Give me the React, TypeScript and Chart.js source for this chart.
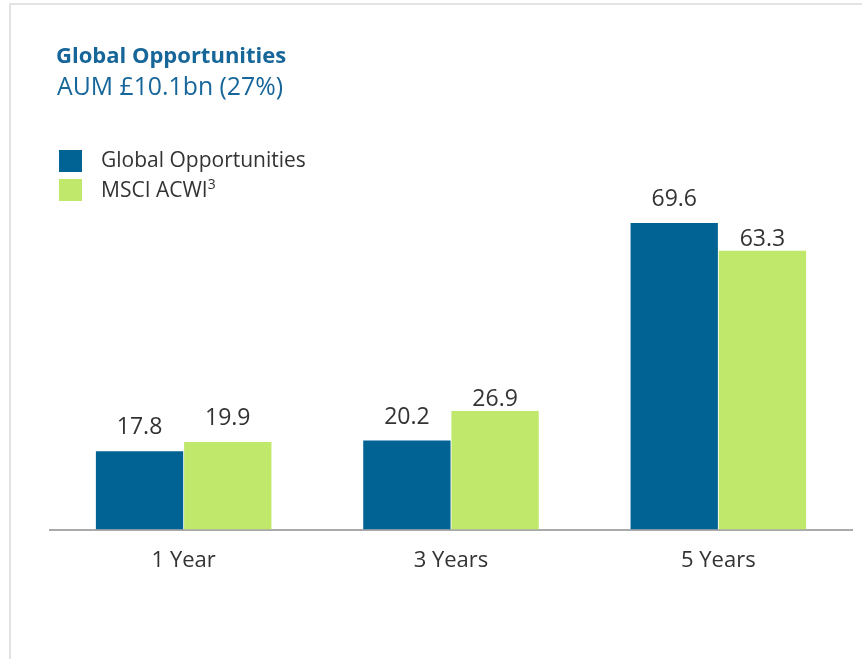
import React, { useEffect, useRef } from "react";
import { Chart, registerables } from "chart.js";

Chart.register(...registerables);

const categories = ["1 Year", "3 Years", "5 Years"];
const fundName = "Global Opportunities";
const benchName = "MSCI ACWI";
const fundValues = [17.8, 20.2, 69.6];
const benchValues = [19.9, 26.9, 63.3];
const titleText = "Global Opportunities";
const subtitleText = "AUM £10.1bn (27%)";

const BLUE = "#006394";
const GREEN = "#c0e86a";
const TEXT = "#333333";
const TITLE_BLUE = "#17669a";
const FONT = "'Open Sans', 'Liberation Sans', Arial, sans-serif";

// gap (px) between each value label's baseline and its bar top, per dataset
const LABEL_GAPS = [
  [17, 17, 17],
  [17, 5, 4.5],
];

const valueLabels = {
  id: "valueLabels",
  afterDatasetsDraw(chart: any) {
    const ctx = chart.ctx;
    ctx.save();
    ctx.font = `23px ${FONT}`;
    ctx.fillStyle = TEXT;
    ctx.textAlign = "center";
    ctx.textBaseline = "alphabetic";
    chart.data.datasets.forEach((ds: any, i: number) => {
      const meta = chart.getDatasetMeta(i);
      meta.data.forEach((bar: any, j: number) => {
        const v = ds.data[j] as number;
        const gap = (LABEL_GAPS[i] && LABEL_GAPS[i][j]) ?? 17;
        ctx.fillText(v.toFixed(1), bar.x, bar.y - gap);
      });
    });
    ctx.restore();
  },
};

export default function App() {
  const ref = useRef<HTMLCanvasElement | null>(null);
  useEffect(() => {
    if (!ref.current) return;
    const chart = new Chart(ref.current, {
      type: "bar",
      data: {
        labels: categories,
        datasets: [
          {
            label: fundName,
            data: fundValues,
            backgroundColor: BLUE,
            categoryPercentage: 0.66,
            barPercentage: 0.99,
          },
          {
            label: benchName,
            data: benchValues,
            backgroundColor: GREEN,
            categoryPercentage: 0.66,
            barPercentage: 0.99,
          },
        ],
      },
      options: {
        responsive: false,
        animation: false,
        layout: { padding: { left: 50, right: 10, top: 177.2, bottom: 67 } },
        plugins: {
          legend: { display: false },
          title: { display: false },
          tooltip: { enabled: false },
        },
        scales: {
          x: {
            grid: { display: false, drawTicks: false },
            border: { display: true, color: "#aaaaaa", width: 2 },
            ticks: {
              color: TEXT,
              font: { family: FONT, size: 22 },
              padding: 18,
            },
          },
          y: {
            display: false,
            min: 0,
            max: 80,
          },
        },
      },
      plugins: [valueLabels],
    });
    return () => chart.destroy();
  }, []);

  const textBase: React.CSSProperties = {
    position: "absolute",
    whiteSpace: "nowrap",
    fontFamily: FONT,
    lineHeight: 1,
    margin: 0,
  };

  return (
    <div
      style={{
        position: "absolute",
        left: 0,
        top: 0,
        width: 862,
        height: 659,
        overflow: "hidden",
        background: "#ffffff",
      }}
    >
      <div
        style={{
          position: "absolute",
          left: 9,
          top: 3,
          width: 2000,
          height: 2000,
          borderLeft: "2px solid #e3e3e3",
          borderTop: "2px solid #e3e3e3",
        }}
      />
      <canvas
        ref={ref}
        width={862}
        height={659}
        style={{ position: "absolute", left: 0, top: 0, width: 862, height: 659 }}
      />
      <div style={{ ...textBase, left: 56, top: 43, fontSize: 22, fontWeight: 700, color: TITLE_BLUE }}>
        {titleText}
      </div>
      <div style={{ ...textBase, left: 57, top: 72.5, fontSize: 24.8, color: TITLE_BLUE }}>
        {subtitleText}
      </div>
      <div style={{ position: "absolute", left: 59, top: 150, width: 23, height: 22, background: BLUE }} />
      <div style={{ position: "absolute", left: 59, top: 179, width: 23, height: 22, background: GREEN }} />
      <div style={{ ...textBase, left: 101, top: 149, fontSize: 21, color: TEXT }}>{fundName}</div>
      <div style={{ ...textBase, left: 101, top: 179, fontSize: 21, color: TEXT }}>
        {benchName}
        <span style={{ fontSize: 14, position: "relative", top: -8, marginLeft: 0 }}>3</span>
      </div>
    </div>
  );
}
